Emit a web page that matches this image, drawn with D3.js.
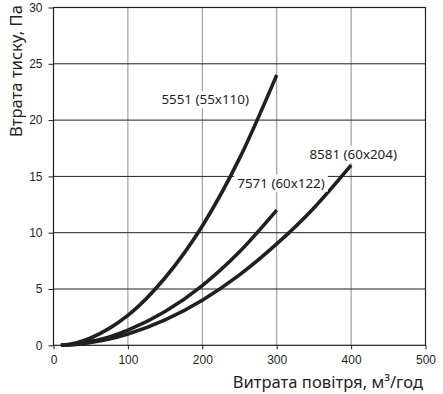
<!DOCTYPE html>
<html>
<head>
<meta charset="utf-8">
<script src="https://cdn.jsdelivr.net/npm/d3@7"></script>
<style>
  body { margin: 0; background: #fff; }
  .tick-label { font-family: "Liberation Sans", Arial, sans-serif; font-size: 12px; fill: #231f20; }
  .title { font-family: "Noto Sans", sans-serif; font-size: 16.6px; fill: #231f20; }
  .note { font-family: "Noto Sans", sans-serif; font-size: 13.4px; fill: #231f20; }
</style>
</head>
<body>
<div id="chart"></div>
<script>
// air flow (m3/h) and pressure drop (Pa) for each grille
var flow5551 = [10, 30, 50, 75, 100, 150, 200, 250, 300];
var dp5551 = [0, 0.2, 0.65, 1.5, 2.65, 6.0, 10.6, 16.6, 24];

var flow7571 = [10, 30, 50, 75, 100, 150, 200, 250, 300];
var dp7571 = [0, 0.1, 0.35, 0.75, 1.35, 3.0, 5.3, 8.3, 12];

var flow8581 = [10, 30, 50, 75, 100, 150, 200, 250, 300, 350, 400];
var dp8581 = [0, 0.08, 0.25, 0.55, 1.0, 2.25, 4.0, 6.25, 9.0, 12.2, 16];

var seriesNames = ["5551 (55x110)", "7571 (60x122)", "8581 (60x204)"];
// where each label sits, in data units (left edge, baseline)
var labelFlow = [145, 247, 344];
var labelDp = [21.4, 14.0, 16.55];

var xTicks = [0, 100, 200, 300, 400, 500];
var yTicks = [0, 5, 10, 15, 20, 25, 30];
var xTitle = "Витрата повітря, м³/год";
var yTitle = "Втрата тиску, Па";

(function () {
    "use strict";

    var W = 443, H = 394;
    var margin = { top: 7.5, right: 17.5, bottom: 48.7, left: 53.5 };
    var width = W - margin.left - margin.right;
    var height = H - margin.top - margin.bottom;

    var svg = d3.select("#chart").append("svg")
        .attr("width", W)
        .attr("height", H);

    var g = svg.append("g")
        .attr("transform", "translate(" + margin.left + "," + margin.top + ")");

    var xScale = d3.scaleLinear().domain([0, 500]).range([0, width]);
    var yScale = d3.scaleLinear().domain([0, 30]).range([height, 0]);

    // vertical grid (grey)
    g.append("g").selectAll("line")
        .data(xTicks.slice(1, -1))
        .enter().append("line")
        .attr("x1", function (d) { return xScale(d); })
        .attr("x2", function (d) { return xScale(d); })
        .attr("y1", 0).attr("y2", height)
        .attr("stroke", "#8c8c8c")
        .attr("stroke-width", 1);

    // horizontal grid (dark)
    g.append("g").selectAll("line")
        .data(yTicks.slice(1, -1))
        .enter().append("line")
        .attr("x1", 0).attr("x2", width)
        .attr("y1", function (d) { return yScale(d); })
        .attr("y2", function (d) { return yScale(d); })
        .attr("stroke", "#231f20")
        .attr("stroke-width", 1);

    // frame
    g.append("rect")
        .attr("x", 0).attr("y", 0)
        .attr("width", width).attr("height", height)
        .attr("fill", "none")
        .attr("stroke", "#231f20")
        .attr("stroke-width", 1.2);

    // axes
    var xAxis = d3.axisBottom(xScale).tickValues(xTicks).tickSize(4).tickPadding(3);
    var yAxis = d3.axisLeft(yScale).tickValues(yTicks).tickSize(5).tickPadding(6);

    var gx = g.append("g")
        .attr("transform", "translate(0," + height + ")")
        .call(xAxis);
    var gy = g.append("g").call(yAxis);

    [gx, gy].forEach(function (ax) {
        ax.select(".domain").remove();
        ax.selectAll(".tick line").attr("stroke", "#231f20");
        ax.selectAll(".tick text").attr("class", "tick-label").attr("fill", null);
    });
    gx.selectAll(".tick text").attr("dy", "0.95em");

    // curves
    var line = d3.line()
        .x(function (d) { return xScale(d[0]); })
        .y(function (d) { return yScale(d[1]); })
        .curve(d3.curveMonotoneX);

    var curves = [
        d3.zip(flow5551, dp5551),
        d3.zip(flow7571, dp7571),
        d3.zip(flow8581, dp8581)
    ];

    g.append("g").selectAll("path")
        .data(curves)
        .enter().append("path")
        .attr("d", line)
        .attr("fill", "none")
        .attr("stroke", "#231f20")
        .attr("stroke-width", 3.6)
        .attr("stroke-linecap", "butt");

    // labels with white boxes
    var labels = g.append("g").selectAll("g")
        .data(seriesNames)
        .enter().append("g");

    labels.each(function (name, i) {
        var lg = d3.select(this);
        var bg = lg.append("rect").attr("fill", "#fff");
        var t = lg.append("text")
            .attr("class", "note")
            .attr("x", xScale(labelFlow[i]))
            .attr("y", yScale(labelDp[i]))
            .text(name);
        var bb = t.node().getBBox();
        bg.attr("x", bb.x - 3).attr("y", bb.y + 1)
            .attr("width", bb.width + 6).attr("height", bb.height - 1);
    });

    // axis titles
    svg.append("text")
        .attr("class", "title")
        .attr("x", 423)
        .attr("y", 388)
        .attr("text-anchor", "end")
        .text(xTitle);

    svg.append("text")
        .attr("class", "title")
        .attr("transform", "translate(22,137)rotate(-90)")
        .attr("text-anchor", "start")
        .text(yTitle);
})();
</script>
</body>
</html>
